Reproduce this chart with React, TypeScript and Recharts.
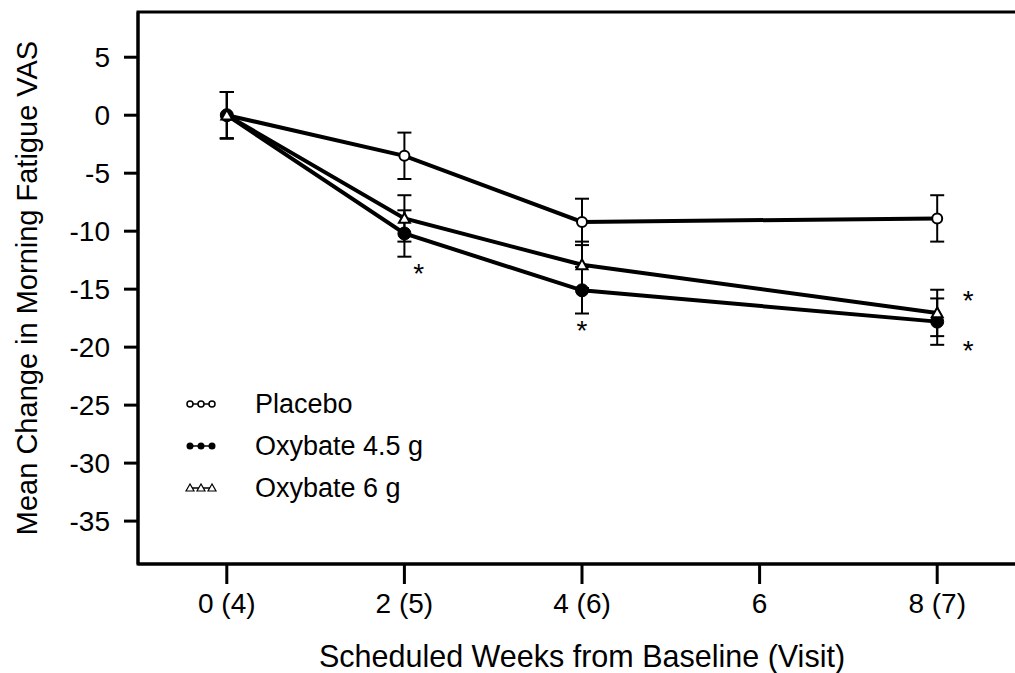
import React from "react";
import {
  ComposedChart,
  Line,
  Scatter,
  XAxis,
  YAxis,
  ErrorBar,
  Legend,
  ReferenceArea,
} from "recharts";

const weeks = [0, 2, 4, 8];
const xTicks = [0, 2, 4, 6, 8];
const xTickLabels = ["0 (4)", "2 (5)", "4 (6)", "6", "8 (7)"];
const yTicks = [5, 0, -5, -10, -15, -20, -25, -30, -35];

const placebo = [0, -3.5, -9.2, -8.9];
const placeboErr = [2, 2, 2, 2];
const oxy45 = [0, -10.2, -15.1, -17.8];
const oxy45Err = [2, 2, 2, 2];
const oxy6 = [0, -8.9, -12.9, -17.05];
const oxy6Err = [2, 2, 2, 2];

// significance markers (week, value)
const starWeeks = [2.16, 4, 8.35, 8.35];
const starValues = [-13.2, -18.1, -15.5, -19.8];

const data = weeks.map((w, i) => ({
  week: w,
  placebo: placebo[i],
  placeboErr: placeboErr[i],
  oxy45: oxy45[i],
  oxy45Err: oxy45Err[i],
  oxy6: oxy6[i],
  oxy6Err: oxy6Err[i],
}));

const stars = starWeeks.map((w, i) => ({ week: w, star: starValues[i] }));

const FONT = "'Liberation Sans', Arial, sans-serif";
const FS = 28;

function OpenCircle(props: any) {
  const { cx, cy, key } = props;
  return <circle key={key} cx={cx} cy={cy} r={5} fill="#fff" stroke="#000" strokeWidth={2} />;
}

function FilledCircle(props: any) {
  const { cx, cy, key } = props;
  return <circle key={key} cx={cx} cy={cy} r={6.5} fill="#000" stroke="#000" />;
}

function OpenTriangle(props: any) {
  const { cx, cy, key } = props;
  const s = 5.5;
  return (
    <polygon
      key={key}
      points={`${cx},${cy - s} ${cx - s},${cy + s * 0.8} ${cx + s},${cy + s * 0.8}`}
      fill="#fff"
      stroke="#000"
      strokeWidth={2}
    />
  );
}

function Star(props: any) {
  const { cx, cy } = props;
  return (
    <text x={cx} y={cy + 15} textAnchor="middle" fontSize={FS} fontFamily={FONT} fill="#000">
      *
    </text>
  );
}

const legendRows = [
  { name: "Placebo", kind: "open" },
  { name: "Oxybate 4.5 g", kind: "filled" },
  { name: "Oxybate 6 g", kind: "tri" },
];

function LegendMarker({ kind, x }: { kind: string; x: number }) {
  if (kind === "open") return <circle cx={x} cy={10} r={3} fill="#fff" stroke="#000" strokeWidth={1.5} />;
  if (kind === "filled") return <circle cx={x} cy={10} r={3.5} fill="#000" />;
  return <polygon points={`${x},6 ${x - 4},13 ${x + 4},13`} fill="#fff" stroke="#000" strokeWidth={1.2} />;
}

function CustomLegend() {
  return (
    <div style={{ fontFamily: FONT, fontSize: 27, color: "#000", lineHeight: "42px" }}>
      {legendRows.map((r) => (
        <div key={r.name} style={{ display: "flex", alignItems: "center", height: 42 }}>
          <svg width={70} height={20} style={{ flex: "none" }}>
            <line x1={4} y1={10} x2={28} y2={10} stroke="#000" strokeWidth={1.5} />
            {[5, 16, 27].map((x) => (
              <LegendMarker key={x} kind={r.kind} x={x} />
            ))}
          </svg>
          <span style={{ whiteSpace: "nowrap" }}>{r.name}</span>
        </div>
      ))}
    </div>
  );
}

export default function App() {
  return (
    <div
      style={{
        position: "absolute",
        left: 0,
        top: 0,
        width: 1015,
        height: 673,
        overflow: "hidden",
        background: "#fff",
      }}
    >
      <ComposedChart
        width={1040}
        height={673}
        data={data}
        margin={{ top: 12, right: 14, bottom: 0, left: 0 }}
        style={{ fontFamily: FONT }}
      >
        <ReferenceArea
          x1={-1}
          x2={9}
          y1={-38.7}
          y2={8.9}
          fill="none"
          stroke="#000"
          strokeWidth={3}
        />
        <XAxis
          dataKey="week"
          type="number"
          domain={[-1, 9]}
          ticks={xTicks}
          tickFormatter={(v: number) => xTickLabels[xTicks.indexOf(v)]}
          allowDataOverflow
          height={109}
          tickSize={20}
          tickMargin={9}
          axisLine={{ stroke: "#000", strokeWidth: 3 }}
          tickLine={{ stroke: "#000", strokeWidth: 3 }}
          tick={{ fill: "#000", fontSize: FS }}
          label={{
            value: "Scheduled Weeks from Baseline (Visit)",
            position: "insideBottom",
            offset: 6,
            style: { fill: "#000", fontSize: 30.5 },
          }}
        />
        <YAxis
          type="number"
          domain={[-38.7, 8.9]}
          ticks={yTicks}
          allowDataOverflow
          width={138}
          tickSize={14}
          tickMargin={14}
          axisLine={{ stroke: "#000", strokeWidth: 3 }}
          tickLine={{ stroke: "#000", strokeWidth: 3 }}
          tick={{ fill: "#000", fontSize: FS }}
          label={{
            value: "Mean Change in Morning Fatigue VAS",
            angle: -90,
            position: "insideLeft",
            offset: 27,
            style: { fill: "#000", fontSize: 29, textAnchor: "middle" },
          }}
        />
        <Legend
          layout="vertical"
          align="center"
          verticalAlign="middle"
          content={<CustomLegend />}
          wrapperStyle={{ left: 185, top: 383, width: 320 }}
        />
        <Line
          dataKey="placebo"
          name="Placebo"
          stroke="#000"
          strokeWidth={4}
          dot={OpenCircle}
          activeDot={false}
          isAnimationActive={false}
        >
          <ErrorBar dataKey="placeboErr" width={7} stroke="#000" strokeWidth={2} direction="y" />
        </Line>
        <Line
          dataKey="oxy45"
          name="Oxybate 4.5 g"
          stroke="#000"
          strokeWidth={4}
          dot={FilledCircle}
          activeDot={false}
          isAnimationActive={false}
        >
          <ErrorBar dataKey="oxy45Err" width={7} stroke="#000" strokeWidth={2} direction="y" />
        </Line>
        <Line
          dataKey="oxy6"
          name="Oxybate 6 g"
          stroke="#000"
          strokeWidth={4}
          dot={OpenTriangle}
          activeDot={false}
          isAnimationActive={false}
        >
          <ErrorBar dataKey="oxy6Err" width={7} stroke="#000" strokeWidth={2} direction="y" />
        </Line>
        <Scatter
          data={stars}
          dataKey="star"
          shape={Star}
          legendType="none"
          isAnimationActive={false}
        />
      </ComposedChart>
    </div>
  );
}
